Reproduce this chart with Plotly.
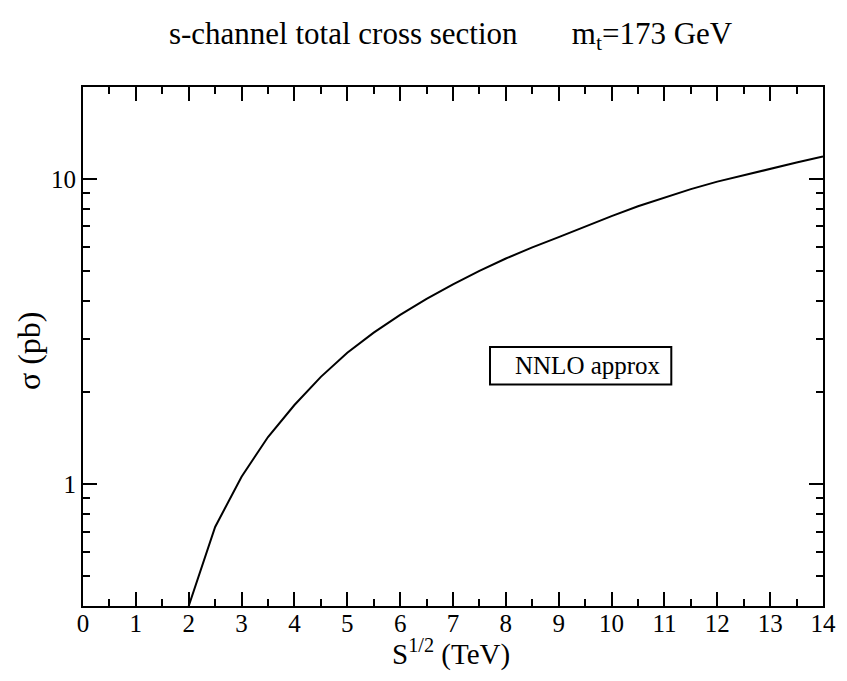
import plotly.graph_objects as go

# s-channel single-top total cross section vs collider energy (m_t = 173 GeV)
sqrt_s_tev = [2.0, 2.5, 3.0, 3.5, 4.0, 4.5, 5.0, 5.5, 6.0, 6.5, 7.0, 7.5, 8.0,
              8.5, 9.0, 9.5, 10.0, 10.5, 11.0, 11.5, 12.0, 12.5, 13.0, 13.5, 14.0]
sigma_pb = [0.40, 0.726, 1.06, 1.43, 1.82, 2.25, 2.70, 3.14, 3.59, 4.05, 4.52, 5.00, 5.49,
            5.97, 6.45, 6.99, 7.56, 8.14, 8.70, 9.26, 9.80, 10.30, 10.80, 11.32, 11.85]

x_major = list(range(0, 15))
x_minor = [i + 0.5 for i in range(0, 14)]
y_major = [1, 10]
y_major_text = ["1", "10"]
y_minor = [0.4, 0.5, 0.6, 0.7, 0.8, 0.9, 2, 3, 4, 5, 6, 7, 8, 9, 20]

FONT = "Liberation Serif, Times New Roman, serif"

fig = go.Figure()
fig.add_trace(go.Scatter(
    x=sqrt_s_tev, y=sigma_pb, mode="lines",
    line=dict(color="black", width=2),
    showlegend=False,
))

axis_common = dict(
    showgrid=False, zeroline=False,
    showline=True, linecolor="black", linewidth=2,
    mirror="ticks", ticks="inside", ticklen=14, tickwidth=2, tickcolor="black",
    tickfont=dict(family=FONT, size=25, color="black"),
)

fig.update_xaxes(
    range=[0, 14], tickmode="array", tickvals=x_major, ticklabelstandoff=-6,
    minor=dict(tickmode="array", tickvals=x_minor, ticks="inside", ticklen=7,
               tickwidth=2, tickcolor="black"),
    **axis_common,
)
fig.update_yaxes(
    type="log", range=[-0.39794, 1.30103], tickmode="array",
    tickvals=y_major, ticktext=y_major_text,
    minor=dict(tickmode="array", tickvals=y_minor, ticks="inside", ticklen=7,
               tickwidth=2, tickcolor="black"),
    **axis_common,
)

# axis titles
fig.add_annotation(xref="paper", yref="paper", x=0.497, y=-0.05,
                   xanchor="center", yanchor="top", showarrow=False,
                   text="S<sup>1/2</sup> (TeV)",
                   font=dict(family=FONT, size=29, color="black"))
fig.add_annotation(xref="paper", yref="paper", x=-0.073, y=0.493,
                   xanchor="center", yanchor="middle", showarrow=False,
                   textangle=-90, text="σ (pb)",
                   font=dict(family=FONT, size=32, color="black"))

# legend-style box
fig.add_shape(type="rect", xref="paper", yref="paper",
              x0=0.55, x1=0.795, y0=0.427, y1=0.499,
              line=dict(color="black", width=2), fillcolor="white", layer="above")
fig.add_annotation(xref="paper", yref="paper", x=0.581, y=0.4625,
                   xanchor="left", yanchor="middle", showarrow=False,
                   text="NNLO approx", font=dict(family=FONT, size=25, color="black"))

fig.update_layout(
    width=847, height=681,
    margin=dict(l=83, r=24, t=87, b=75),
    paper_bgcolor="white", plot_bgcolor="white",
    title=dict(
        text="s-channel total cross section" + "&nbsp;" * 7 + "m<sub>t</sub>=173 GeV",
        x=0.532, xanchor="center", y=0.952, yanchor="middle",
        font=dict(family=FONT, size=31, color="black"),
    ),
)

fig.write_html("out.html")
